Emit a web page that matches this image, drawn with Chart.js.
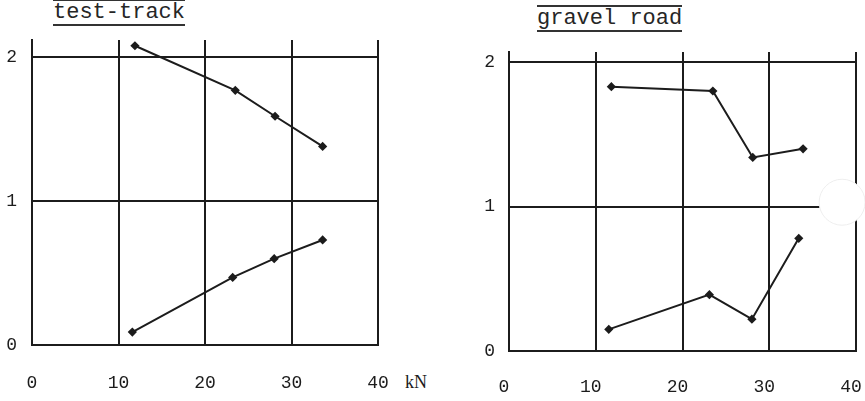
<!DOCTYPE html>
<html>
<head>
<meta charset="utf-8">
<script src="https://cdn.jsdelivr.net/npm/chart.js@4/dist/chart.umd.min.js"></script>
<style>
  html, body { margin: 0; padding: 0; background: #fff; }
  body { width: 865px; height: 401px; position: relative; overflow: hidden; }
  .box { position: absolute; top: 0; height: 401px; }
  .title {
    position: absolute; font-family: "Liberation Mono", "DejaVu Sans Mono", monospace;
    font-size: 22px; line-height: 22px; color: #262626; white-space: pre;
    border-top: 2px solid #333; border-bottom: 2px solid #333; padding: 1px 0 0 0;
  }
  .unit { position: absolute; font-family: "Liberation Serif", serif; font-size: 18px; color: #1c1c1c; }
</style>
</head>
<body>
<div class="title" style="left:53px; top:-1px;">test-track</div>
<div class="title" style="left:537px; top:5px;">gravel road</div>
<div class="unit" style="left:405px; top:372px;">kN</div>
<div class="box" style="left:0; width:400px;"><canvas id="left"></canvas></div>
<div class="box" style="left:440px; width:425px;"><canvas id="right"></canvas></div>
<script>
// axis ticks
const xTicks = [0, 10, 20, 30, 40];
const yTicks = [0, 1, 2];

// test-track, load in kN and values
const trackUpperX = [11.9, 23.5, 28.1, 33.6];
const trackUpperY = [2.08, 1.77, 1.59, 1.38];
const trackLowerX = [11.6, 23.2, 28.0, 33.6];
const trackLowerY = [0.09, 0.47, 0.60, 0.73];

// gravel road
const gravelUpperX = [11.8, 23.5, 28.1, 33.9];
const gravelUpperY = [1.83, 1.80, 1.34, 1.40];
const gravelLowerX = [11.5, 23.1, 28.0, 33.4];
const gravelLowerY = [0.15, 0.39, 0.22, 0.78];

const ink = '#1c1c1c';

function pts(xs, ys) {
  return xs.map((x, i) => ({ x: x, y: ys[i] }));
}

function series(xs, ys) {
  return {
    data: pts(xs, ys),
    borderColor: ink,
    backgroundColor: ink,
    borderWidth: 2,
    pointStyle: 'rectRot',
    pointRadius: 3.2,
    tension: 0
  };
}

// paper hole on the right sheet
const holePlugin = {
  id: 'hole',
  afterDraw(chart) {
    const ctx = chart.ctx;
    const cx = chart.scales.x.getPixelForValue(38.4);
    const cy = chart.scales.y.getPixelForValue(1.03);
    ctx.save();
    ctx.beginPath();
    ctx.arc(cx, cy, 23, 0, Math.PI * 2);
    ctx.fillStyle = '#fff';
    ctx.fill();
    ctx.strokeStyle = '#eeeeee';
    ctx.lineWidth = 1;
    ctx.stroke();
    ctx.restore();
  }
};

function makeChart(id, sets, opt) {
  return new Chart(document.getElementById(id), {
    type: 'line',
    data: { datasets: sets },
    options: {
      responsive: true,
      maintainAspectRatio: false,
      animation: false,
      layout: { padding: { top: opt.top, right: opt.right, left: 0, bottom: 0 } },
      plugins: { legend: { display: false }, tooltip: { enabled: false } },
      scales: {
        x: {
          type: 'linear',
          min: 0, max: 40,
          afterFit(s) { s.height = opt.xh; s.paddingLeft = 0; s.paddingRight = 0; },
          afterBuildTicks(s) { s.ticks = xTicks.map(v => ({ value: v })); },
          grid: { color: ink, lineWidth: 2, drawTicks: false },
          border: { color: ink, width: 2 },
          ticks: {
            padding: opt.xpad, color: ink, labelOffset: opt.xoff,
            font: { family: 'Liberation Mono', size: 18 }
          }
        },
        y: {
          min: 0, max: opt.ymax,
          afterFit(s) { s.width = opt.yw; s.paddingTop = 0; s.paddingBottom = 0; },
          afterBuildTicks(s) { s.ticks = yTicks.map(v => ({ value: v })); },
          grid: { color: ink, lineWidth: 2, drawTicks: false },
          border: { color: ink, width: 2 },
          ticks: {
            padding: opt.ypad, color: ink,
            font: { family: 'Liberation Mono', size: 18 }
          }
        }
      }
    },
    plugins: opt.plugins || []
  });
}

makeChart('left', [series(trackUpperX, trackUpperY), series(trackLowerX, trackLowerY)],
  { top: 40, right: 22, xh: 56, yw: 32, ymax: 2.12, xpad: 27, ypad: 15, xoff: 0 });

makeChart('right', [series(gravelUpperX, gravelUpperY), series(gravelLowerX, gravelLowerY)],
  { top: 52, right: 9, xh: 50, yw: 69, ymax: 2.07, xpad: 25, ypad: 14, xoff: -5, plugins: [holePlugin] });
</script>
</body>
</html>
